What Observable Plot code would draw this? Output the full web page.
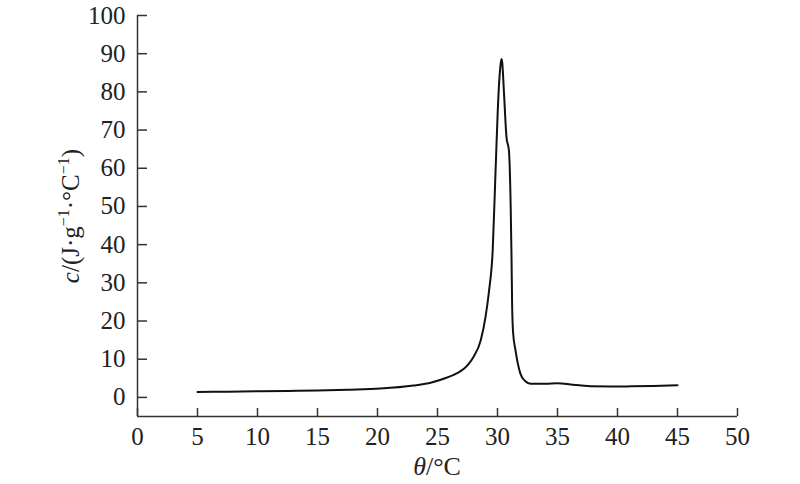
<!DOCTYPE html>
<html>
<head>
<meta charset="utf-8">
<script src="https://cdn.jsdelivr.net/npm/d3@7"></script>
<script src="https://cdn.jsdelivr.net/npm/@observablehq/plot@0.6"></script>
<style>
  html, body { margin: 0; padding: 0; background: #fff; }
  #chart svg { display: block; }
</style>
</head>
<body>
<div id="chart"></div>
<script>
// temperature (°C)
const theta = [5, 7.5, 10, 12.5, 15, 17.5, 20.25, 23.0, 24.5, 25.8, 26.6, 27.2, 27.6, 28.0, 28.6, 29.0, 29.3, 29.6, 29.83, 30.1, 30.25, 30.33, 30.4, 30.53, 30.75, 30.95, 31.1, 31.17, 31.22, 31.3, 31.5, 31.9, 32.3, 32.75, 34, 35, 36.1, 37, 37.75, 39.5, 41.1, 43, 45];
// specific heat c (J·g^-1·°C^-1)
const cValues = [1.4, 1.5, 1.6, 1.7, 1.8, 2.0, 2.3, 3.1, 3.9, 5.2, 6.3, 7.5, 8.8, 10.6, 14.9, 21, 28, 38.5, 58.6, 80.4, 87, 88.6, 87.5, 80.4, 68.1, 64.7, 49.8, 36.4, 24, 17, 12.3, 6.3, 4.3, 3.6, 3.6, 3.7, 3.4, 3.1, 2.9, 2.85, 2.9, 3.0, 3.2];
const xTicks = [0, 5, 10, 15, 20, 25, 30, 35, 40, 45, 50];
const yTicks = [0, 10, 20, 30, 40, 50, 60, 70, 80, 90, 100];

const data = theta.map((t, i) => ({t, c: cValues[i]}));

const font = "Liberation Serif, Times New Roman, serif";
const axisColor = "#333";

const plot = Plot.plot({
  width: 800,
  height: 484,
  marginLeft: 137,
  marginRight: 63,
  marginTop: 15,
  marginBottom: 68,
  style: {fontFamily: font, fontSize: "25px", color: "#222", background: "#fff"},
  x: {domain: [0, 50]},
  y: {domain: [-5, 100]},
  marks: [
    Plot.axisX({ticks: xTicks, tickSize: 8, dy: -8, tickPadding: 11, label: null, stroke: axisColor, strokeWidth: 1.5, fontSize: 25, fill: "#222"}),
    Plot.axisY({ticks: yTicks, tickSize: 10, dx: 10, tickPadding: 12, label: null, stroke: axisColor, strokeWidth: 1.5, fontSize: 25, fill: "#222"}),
    Plot.ruleX([0], {stroke: axisColor, strokeWidth: 1.5}),
    Plot.ruleY([-5], {stroke: axisColor, strokeWidth: 1.5}),
    Plot.line(data, {x: "t", y: "c", stroke: "#111", strokeWidth: 2, curve: "monotone-x"})
  ]
});

document.getElementById("chart").appendChild(plot);

const svg = d3.select(plot);
// x-axis label: θ/°C
const xl = svg.append("text")
  .attr("x", 437).attr("y", 475)
  .attr("text-anchor", "middle")
  .attr("font-family", font).attr("font-size", 26).attr("fill", "#222");
xl.append("tspan").attr("font-style", "italic").text("θ");
xl.append("tspan").text("/°C");

// y-axis label: c/(J·g⁻¹·°C⁻¹)
const yl = svg.append("text")
  .attr("transform", "translate(79,216) rotate(-90)")
  .attr("text-anchor", "middle")
  .attr("font-family", font).attr("font-size", 25).attr("fill", "#222");
yl.append("tspan").attr("font-style", "italic").text("c");
yl.append("tspan").text("/(J·g");
yl.append("tspan").attr("dy", -10).attr("font-size", 16).text("−1");
yl.append("tspan").attr("dy", 10).text("·°C");
yl.append("tspan").attr("dy", -10).attr("font-size", 16).text("−1");
yl.append("tspan").attr("dy", 10).text(")");
</script>
</body>
</html>
